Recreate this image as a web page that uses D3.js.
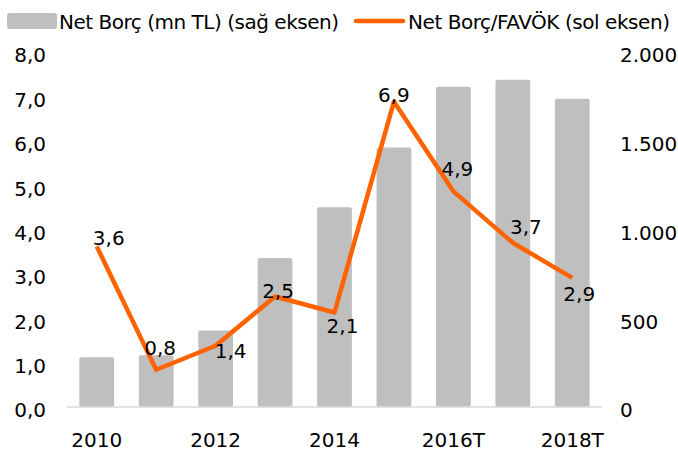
<!DOCTYPE html>
<html>
<head>
<meta charset="utf-8">
<script src="https://cdn.jsdelivr.net/npm/d3@7"></script>
<style>
  body { margin: 0; background: #fff; }
  svg text { font-family: "DejaVu Sans", sans-serif; font-size: 20px; fill: #000; }
</style>
</head>
<body>
<svg class="chart" width="678" height="455"></svg>
<script>
// chart data
let years = ['2010', '2011', '2012', '2013', '2014', '2015', '2016T', '2017T', '2018T'];
let netDebt = [280, 291, 431, 840, 1126, 1462, 1804, 1843, 1737];   // mn TL, right axis
let debtToEbitda = [3.62, 0.84, 1.38, 2.49, 2.13, 6.88, 4.86, 3.70, 2.91]; // left axis
let leftTicks = [0, 1, 2, 3, 4, 5, 6, 7, 8];
let rightTicks = [0, 500, 1000, 1500, 2000];
let seriesNames = ['Net Borç (mn TL) (sağ eksen)', 'Net Borç/FAVÖK (sol eksen)'];
// where each data label sits relative to its point
let labelOffsets = [[12, -1], [4, -15], [15, 12], [3, 1], [8, 21], [0, 0], [4, -15], [13, -9], [7, 23]];

let trLocale = d3.formatLocale({ decimal: ',', thousands: '.', grouping: [3], currency: ['', ''] });
let fmt1 = trLocale.format('.1f');
let fmtK = trLocale.format(',.0f');

let svg = d3.select('.chart');

let x = d3.scaleBand().domain(years).range([67, 602]).paddingInner(0.415).paddingOuter(0.2075);
let yL = d3.scaleLinear().domain([0, 8]).range([407, 52]);
let yR = d3.scaleLinear().domain([0, 2000]).range([407, 52]);

// bars (right axis)
svg.append('g').selectAll('rect').data(netDebt).enter().append('rect')
  .attr('x', (d, i) => x(years[i]))
  .attr('y', d => yR(d))
  .attr('width', x.bandwidth())
  .attr('height', d => yR(0) - yR(d))
  .attr('rx', 2)
  .attr('fill', '#bfbfbf');

// x axis line
svg.append('line')
  .attr('x1', 67).attr('x2', 602)
  .attr('y1', yL(0)).attr('y2', yL(0))
  .attr('stroke', '#d9d9d9').attr('stroke-width', 1.5);

// left ticks
svg.append('g').selectAll('text').data(leftTicks).enter().append('text')
  .attr('x', 46).attr('y', d => yL(d)).attr('dy', '0.52em')
  .attr('text-anchor', 'end')
  .text(d => fmt1(d));

// right ticks (pulled in a little so 2.000 fits)
svg.append('g').selectAll('text').data(rightTicks).enter().append('text')
  .attr('x', 620).attr('y', d => yR(d)).attr('dy', '0.52em')
  .text(d => fmtK(d));

// category labels, every other one
svg.append('g').selectAll('text').data(years.filter((d, i) => i % 2 === 0)).enter().append('text')
  .attr('x', d => x(d) + x.bandwidth() / 2).attr('y', 447)
  .attr('text-anchor', 'middle')
  .text(d => d);

// line (left axis)
let line = d3.line()
  .x((d, i) => x(years[i]) + x.bandwidth() / 2)
  .y(d => yL(d));

svg.append('path').datum(debtToEbitda)
  .attr('d', line)
  .attr('fill', 'none')
  .attr('stroke', '#ff6300')
  .attr('stroke-width', 4.5)
  .attr('stroke-linejoin', 'round');

svg.append('g').selectAll('text').data(debtToEbitda).enter().append('text')
  .attr('x', (d, i) => x(years[i]) + x.bandwidth() / 2 + labelOffsets[i][0])
  .attr('y', (d, i) => yL(d) + labelOffsets[i][1])
  .attr('text-anchor', 'middle')
  .text(d => fmt1(d));

// legend
let legend = svg.append('g');
legend.append('rect').attr('x', 7).attr('y', 13).attr('width', 50).attr('height', 16).attr('rx', 3).attr('fill', '#bfbfbf');
legend.append('text').attr('x', 59).attr('y', 28.5)
  .attr('textLength', 280).attr('lengthAdjust', 'spacing')
  .text(seriesNames[0]);
legend.append('line').attr('x1', 356).attr('x2', 403).attr('y1', 21).attr('y2', 21)
  .attr('stroke', '#ff6300').attr('stroke-width', 4.5).attr('stroke-linecap', 'round');
legend.append('text').attr('x', 408).attr('y', 28.5)
  .attr('textLength', 262).attr('lengthAdjust', 'spacing')
  .text(seriesNames[1]);
</script>
</body>
</html>
